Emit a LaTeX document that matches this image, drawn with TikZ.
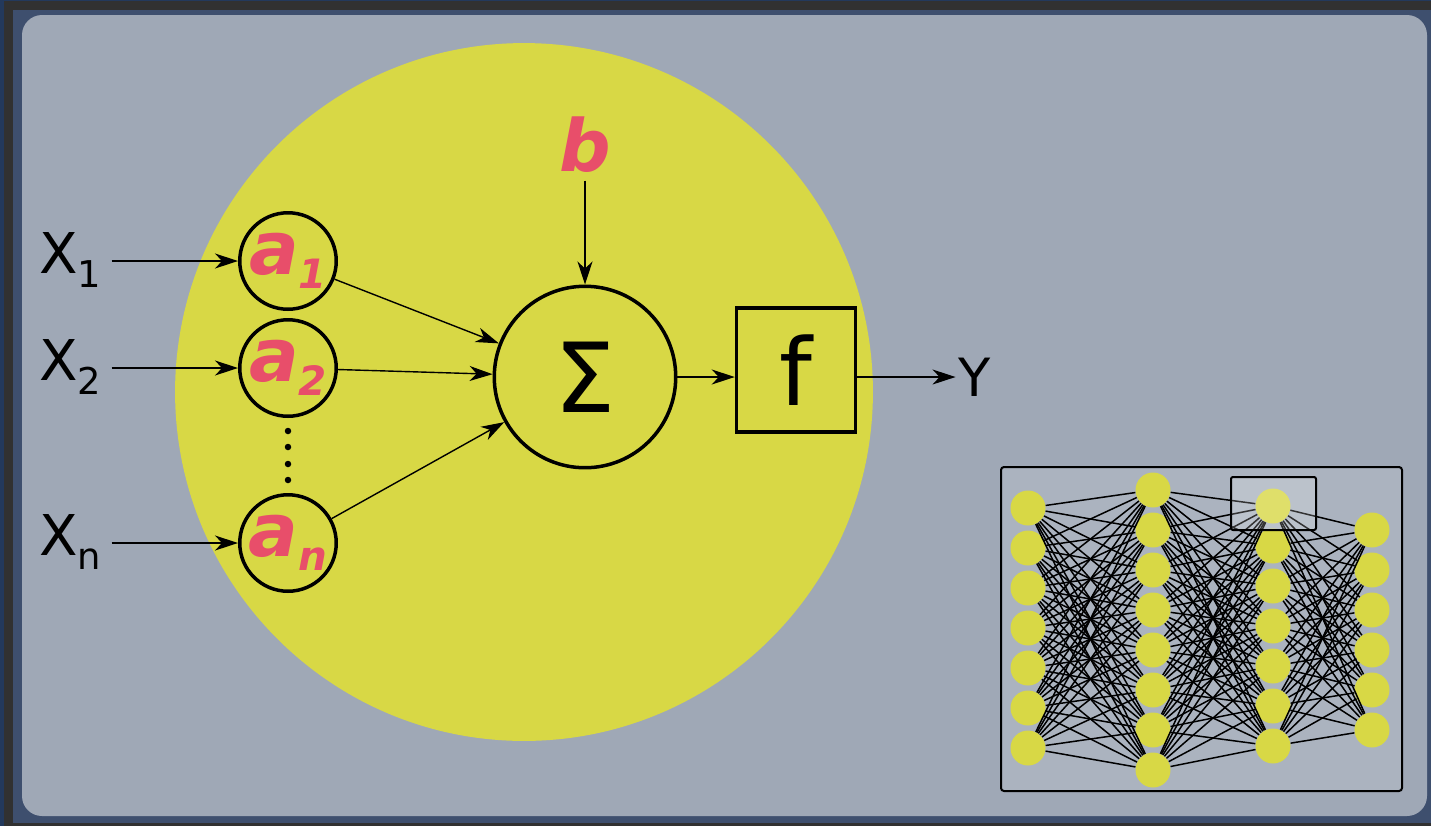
\documentclass[tikz,border=0pt]{standalone}
\usepackage{fontspec}
\setmainfont{DejaVu Sans}
\usetikzlibrary{arrows.meta}
\definecolor{framenavy}{HTML}{23395C}
\definecolor{framedark}{HTML}{313131}
\definecolor{frameslate}{HTML}{3E4F6E}
\definecolor{panelgray}{HTML}{9FA8B6}
\definecolor{insetgray}{HTML}{ABB3BF}
\definecolor{cellyellow}{HTML}{D8D845}
\definecolor{weightpink}{HTML}{E84E6A}

\newcommand{\wsub}[1]{\raisebox{-8pt}{\fontsize{23pt}{23pt}\selectfont #1}}
\newcommand{\xsub}[1]{\raisebox{-8pt}{\fontsize{21pt}{21pt}\selectfont #1}}

\tikzset{
  wnode/.style={circle, draw, line width=0.07cm, minimum size=1.93cm, inner sep=0,
    text=weightpink, font=\fontsize{42pt}{42pt}\selectfont\bfseries\itshape},
  inlabel/.style={anchor=base west, inner ysep=0, inner xsep=0.2cm, font=\fontsize{32pt}{32pt}\selectfont},
  arr/.style={-{Stealth[length=0.46cm, width=0.3cm, inset=0.14cm]}, line width=0.028cm},
  neuron/.style={circle, fill=cellyellow, minimum size=0.7cm, inner sep=0},
  link/.style={line width=0.03cm}
}

\begin{document}
\begin{tikzpicture}[x=0.02cm, y=-0.02cm]
  \useasboundingbox (0,0) rectangle (1431,826);
  \fill[framenavy] (0,0) rectangle (1431,826);
  \fill[framedark] (4,1) rectangle (1431,826);
  \fill[frameslate] (13,10) rectangle (1431,823);
  \fill[panelgray, rounded corners=0.4cm] (22,15) rectangle (1427,816);

  \fill[cellyellow] (524,392) circle [radius=6.98cm];

  \node[wnode] (a1) at (288,261) {a\wsub{1}};
  \node[wnode] (a2) at (288,368) {a\wsub{2}};
  \node[wnode] (an) at (288,543) {a\wsub{n}};
  \foreach \y in {431,447,464,480}
    \fill (288,\y) circle [radius=0.065cm];

  \node[inlabel] (x1) at (29,273) {X\xsub{1}};
  \node[inlabel] (x2) at (29,380) {X\xsub{2}};
  \node[inlabel] (xn) at (29,555) {X\xsub{n}};
  \draw[arr] (x1.east |- a1) -- (a1);
  \draw[arr] (x2.east |- a2) -- (a2);
  \draw[arr] (xn.east |- an) -- (an);

  \node[circle, draw, line width=0.07cm, minimum size=3.63cm,
    font=\fontsize{55pt}{55pt}\selectfont] (sum) at (585,377) {Σ};
  \node[draw, line width=0.07cm, minimum width=2.38cm, minimum height=2.48cm,
    font=\fontsize{53pt}{53pt}\selectfont] (act) at (796,370) {f};
  \node[inner sep=0.06cm, font=\fontsize{30pt}{30pt}\selectfont] (out) at (975,377) {Y};
  \node[inner sep=0.15cm, text=weightpink,
    font=\fontsize{41pt}{41pt}\selectfont\bfseries\itshape] (bias) at (585,145) {b};

  \draw[arr] (a1) -- (sum);
  \draw[arr] (a2) -- (sum);
  \draw[arr] (an) -- (sum);
  \draw[arr] (bias) -- (sum);
  \draw[arr] (sum.east) -- (sum.east -| act.west);
  \draw[arr] (act.east |- out) -- (out);

  \draw[line width=0.04cm, rounded corners=0.06cm, fill=insetgray] (1001,467) rectangle (1402,791);
  \foreach \i in {1,...,7} \node[neuron] (p\i) at (1028,468+40*\i) {};
  \foreach \i in {1,...,8} \node[neuron] (q\i) at (1153,450+40*\i) {};
  \foreach \i in {1,...,7} \node[neuron] (r\i) at (1273,466+40*\i) {};
  \foreach \i in {1,...,6} \node[neuron] (s\i) at (1372,490+40*\i) {};
  \foreach \i in {1,...,7} \foreach \j in {1,...,8} \draw[link] (p\i) -- (q\j);
  \foreach \i in {1,...,8} \foreach \j in {1,...,7} \draw[link] (q\i) -- (r\j);
  \foreach \i in {1,...,7} \foreach \j in {1,...,6} \draw[link] (r\i) -- (s\j);
  \draw[line width=0.04cm, rounded corners=0.04cm, fill=white, fill opacity=0.2] (1231,477) rectangle (1316,530);
\end{tikzpicture}
\end{document}
